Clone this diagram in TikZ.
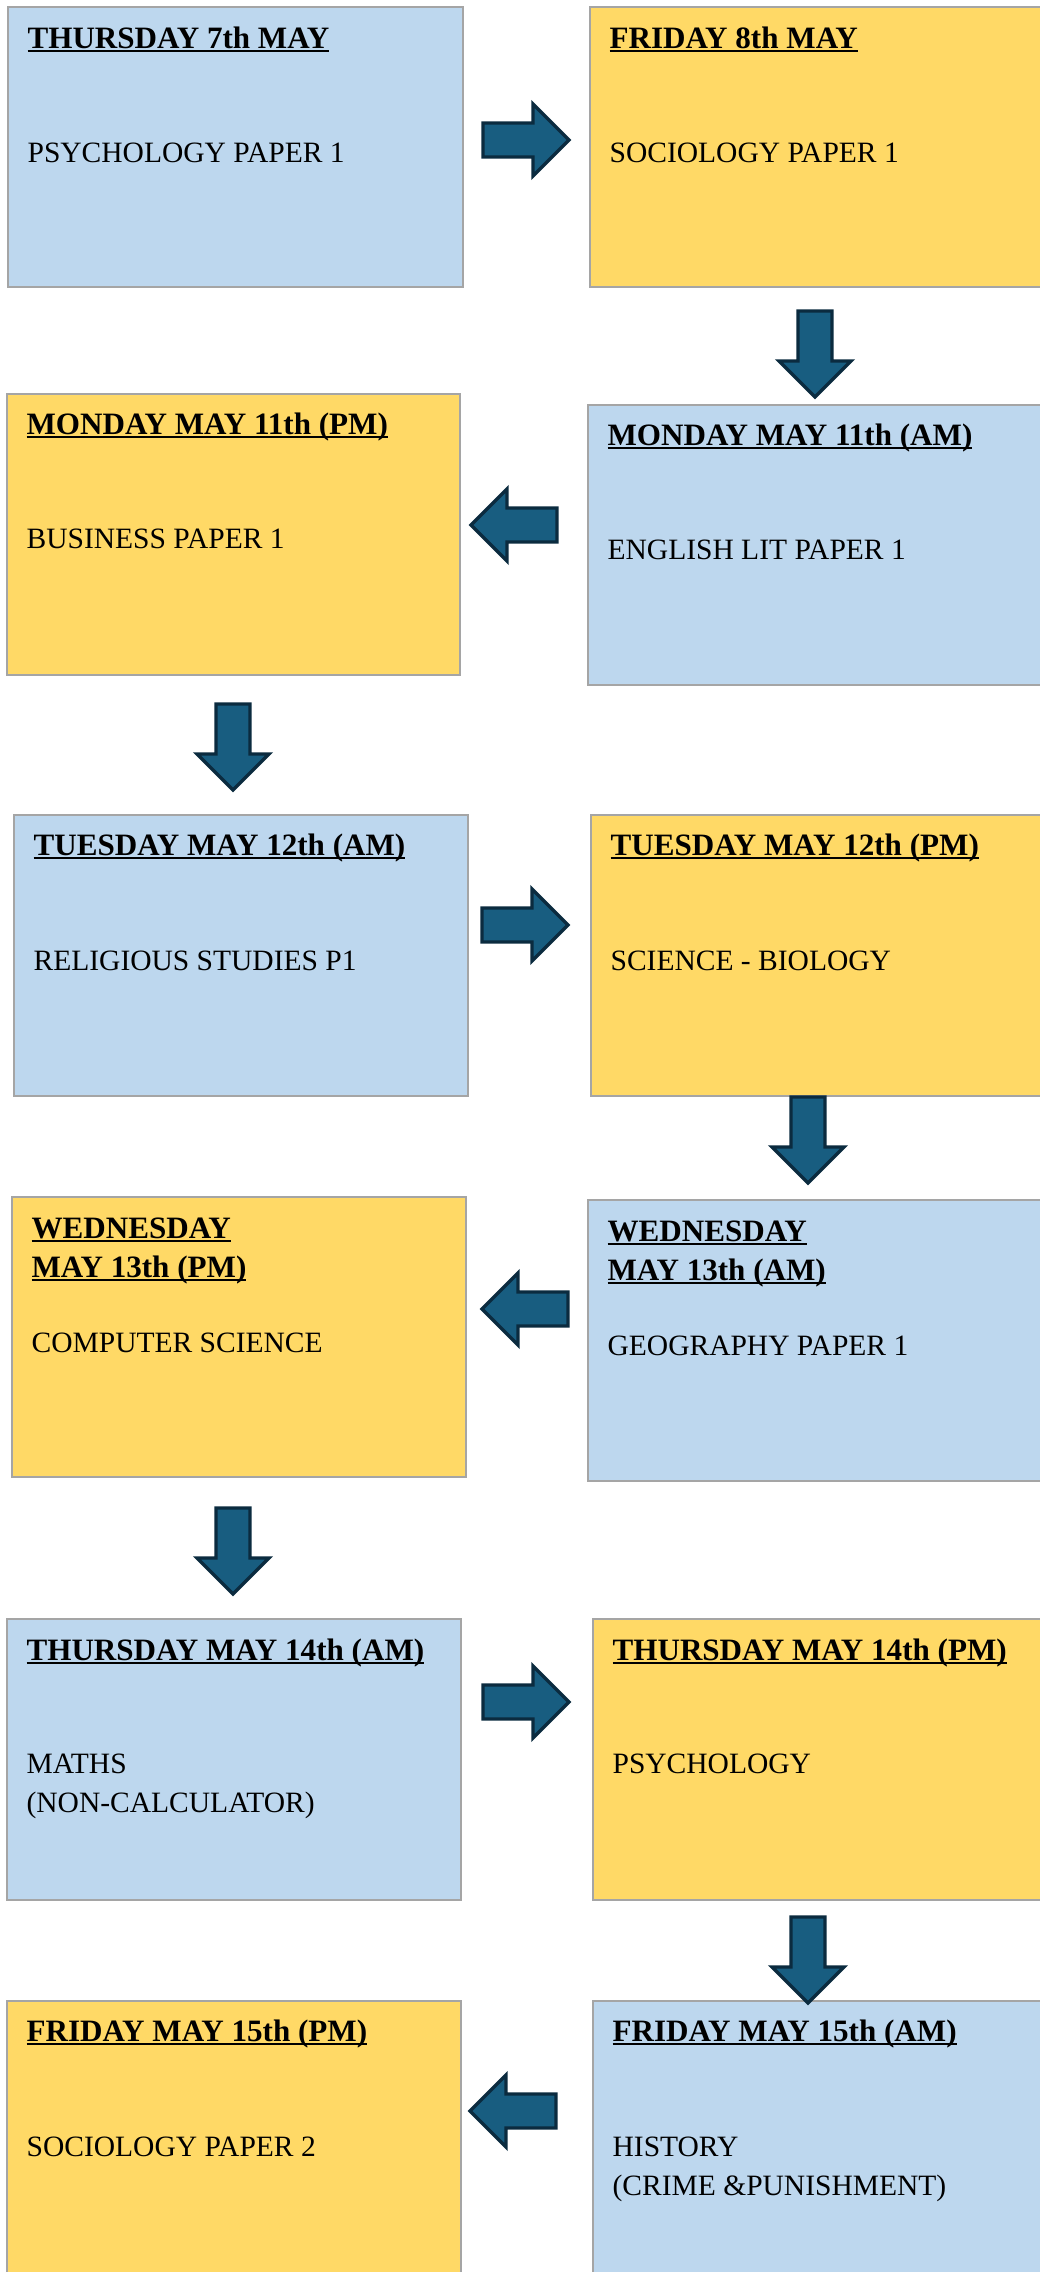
\documentclass[tikz,border=0pt]{standalone}
\usepackage{fontspec}
\setmainfont{Liberation Serif}
\usepackage{xcolor}
\usepackage{tikz}
\usetikzlibrary{fit,positioning}

\definecolor{paleblue}{HTML}{BDD7EE}
\definecolor{examgold}{HTML}{FFD966}
\definecolor{boxgrey}{HTML}{A5A5A5}
\definecolor{arrowteal}{HTML}{185D80}
\definecolor{arrowedge}{HTML}{0B2B3F}

% underlined day heading
\newsavebox\daybox
\newcommand{\dayline}[1]{\sbox\daybox{#1}\rlap{\rule[-2pt]{\wd\daybox}{1.1pt}}\usebox\daybox}

\tikzset{
    bluebox/.style={draw=boxgrey, line width=0.85pt, fill=paleblue, inner sep=0pt},
    goldbox/.style={draw=boxgrey, line width=0.85pt, fill=examgold, inner sep=0pt},
    daytitle/.style={anchor=base west, inner sep=0pt, align=left,
        font=\fontsize{17.7}{22.2}\selectfont\bfseries},
    paper/.style={anchor=base west, inner sep=0pt, align=left,
        font=\fontsize{16.8}{22.2}\selectfont},
    flowarrow/.pic={
        \draw[fill=arrowteal, draw=arrowedge, line width=1.9pt, line join=miter]
            (-43,-17) -- (7,-17) -- (7,-36) -- (43,0) -- (7,36) -- (7,17) -- (-43,17) -- cycle;
    }
}

\begin{document}
\begin{tikzpicture}[x=0.02cm, y=-0.02cm]
    \useasboundingbox (0,0) rectangle (1039,2272);

    % the slots
    \node[bluebox, fit={(8,7) (463,287)}] (thu7) {};
    \node[goldbox, fit={(590,7) (1060,287)}] (fri8) {};
    \node[goldbox, fit={(7,394) (460,675)}] (mon11pm) {};
    \node[bluebox, fit={(588,405) (1060,685)}] (mon11am) {};
    \node[bluebox, fit={(14,815) (468,1096)}] (tue12am) {};
    \node[goldbox, fit={(591,815) (1060,1096)}] (tue12pm) {};
    \node[goldbox, fit={(12,1197) (466,1477)}] (wed13pm) {};
    \node[bluebox, fit={(588,1200) (1060,1481)}] (wed13am) {};
    \node[bluebox, fit={(7,1619) (461,1900)}] (thu14am) {};
    \node[goldbox, fit={(593,1619) (1060,1900)}] (thu14pm) {};
    \node[goldbox, fit={(7,2001) (461,2300)}] (fri15pm) {};
    \node[bluebox, fit={(593,2001) (1060,2300)}] (fri15am) {};

    % day titles
    \node[daytitle] (thu7day) at ([shift={(20,42)}]thu7.north west) {\dayline{THURSDAY 7th MAY}};
    \node[daytitle] (fri8day) at ([shift={(20,42)}]fri8.north west) {\dayline{FRIDAY 8th MAY}};
    \node[daytitle] (mon11pmday) at ([shift={(20,41)}]mon11pm.north west) {\dayline{MONDAY MAY 11th (PM)}};
    \node[daytitle] (mon11amday) at ([shift={(20,41)}]mon11am.north west) {\dayline{MONDAY MAY 11th (AM)}};
    \node[daytitle] (tue12amday) at ([shift={(20,41)}]tue12am.north west) {\dayline{TUESDAY MAY 12th (AM)}};
    \node[daytitle] (tue12pmday) at ([shift={(20,41)}]tue12pm.north west) {\dayline{TUESDAY MAY 12th (PM)}};
    \node[daytitle] (wed13pmday) at ([shift={(20,81)}]wed13pm.north west) {\dayline{WEDNESDAY}\\\dayline{MAY 13th (PM)}};
    \node[daytitle] (wed13amday) at ([shift={(20,81)}]wed13am.north west) {\dayline{WEDNESDAY}\\\dayline{MAY 13th (AM)}};
    \node[daytitle] (thu14amday) at ([shift={(20,42)}]thu14am.north west) {\dayline{THURSDAY MAY 14th (AM)}};
    \node[daytitle] (thu14pmday) at ([shift={(20,42)}]thu14pm.north west) {\dayline{THURSDAY MAY 14th (PM)}};
    \node[daytitle] (fri15pmday) at ([shift={(20,41)}]fri15pm.north west) {\dayline{FRIDAY MAY 15th (PM)}};
    \node[daytitle] (fri15amday) at ([shift={(20,41)}]fri15am.north west) {\dayline{FRIDAY MAY 15th (AM)}};

    % papers
    \node[paper] (thu7exam) at ([shift={(20,156)}]thu7.north west) {PSYCHOLOGY PAPER 1};
    \node[paper] (fri8exam) at ([shift={(20,156)}]fri8.north west) {SOCIOLOGY PAPER 1};
    \node[paper] (mon11pmexam) at ([shift={(20,155)}]mon11pm.north west) {BUSINESS PAPER 1};
    \node[paper] (mon11amexam) at ([shift={(20,155)}]mon11am.north west) {ENGLISH LIT PAPER 1};
    \node[paper] (tue12amexam) at ([shift={(20,156)}]tue12am.north west) {RELIGIOUS STUDIES P1};
    \node[paper] (tue12pmexam) at ([shift={(20,156)}]tue12pm.north west) {SCIENCE - BIOLOGY};
    \node[paper] (wed13pmexam) at ([shift={(20,156)}]wed13pm.north west) {COMPUTER SCIENCE};
    \node[paper] (wed13amexam) at ([shift={(20,156)}]wed13am.north west) {GEOGRAPHY PAPER 1};
    \node[paper] (thu14amexam) at ([shift={(20,194)}]thu14am.north west) {MATHS\\(NON-CALCULATOR)};
    \node[paper] (thu14pmexam) at ([shift={(20,155)}]thu14pm.north west) {PSYCHOLOGY};
    \node[paper] (fri15pmexam) at ([shift={(20,156)}]fri15pm.north west) {SOCIOLOGY PAPER 2};
    \node[paper] (fri15amexam) at ([shift={(20,195)}]fri15am.north west) {HISTORY\\(CRIME \&PUNISHMENT)};

    % arrows between slots
    \pic at (526,140) {flowarrow};
    \pic[rotate=-90] at (815,354) {flowarrow};
    \pic[rotate=180] at (514,525) {flowarrow};
    \pic[rotate=-90] at (233,747) {flowarrow};
    \pic at (525,925) {flowarrow};
    \pic[rotate=-90] at (808,1140) {flowarrow};
    \pic[rotate=180] at (525,1309) {flowarrow};
    \pic[rotate=-90] at (233,1551) {flowarrow};
    \pic at (526,1702) {flowarrow};
    \pic[rotate=-90] at (808,1960) {flowarrow};
    \pic[rotate=180] at (513,2111) {flowarrow};
\end{tikzpicture}
\end{document}
